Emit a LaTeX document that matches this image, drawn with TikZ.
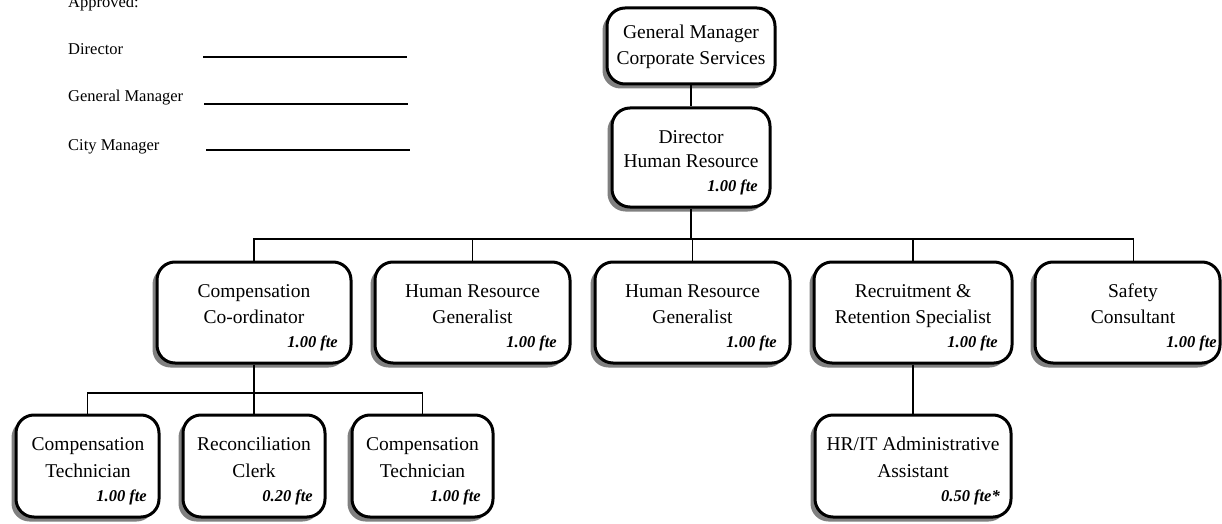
\documentclass[tikz,border=0pt]{standalone}
\usepackage{fontspec}
\setmainfont{Liberation Serif}
\usetikzlibrary{shadows}
\tikzset{
  orgbox/.style={draw=black, line width=3pt, fill=white, rounded corners=18pt, inner sep=0pt,
    drop shadow={shadow xshift=-4.5pt, shadow yshift=-4.5pt, fill=black!50, opacity=1}},
  ttl/.style={anchor=base, inner sep=0pt, font=\fontsize{19.5}{26}\selectfont},
  fte/.style={anchor=base east, inner sep=0pt, font=\fontsize{16.5}{18}\selectfont\bfseries\itshape},
  small/.style={anchor=base west, inner sep=0pt, font=\fontsize{16.5}{18}\selectfont},
  conn/.style={draw=black, line width=1.3pt},
  sigline/.style={draw=black, line width=1.8pt}
}
\newcommand{\obox}[5]{% name, x1, y1, x2, y2
  \node[orgbox, minimum width=#4-#2, minimum height=#5-#3] (#1) at ({(#2+#4)/2},{(#3+#5)/2}) {};
}
\begin{document}
\begin{tikzpicture}[x=1pt,y=-1pt]
\useasboundingbox (0,0) rectangle (1222,524);

% approval block
\node[small] (appr) at (68,8) {Approved:};
\node[small] (sdir) at (68,55) {Director};
\node[small] (sgm) at (68,102) {General Manager};
\node[small] (scm) at (68,150) {City Manager};
\coordinate (l1a) at (203,57); \coordinate (l1b) at (407,57);
\coordinate (l2a) at (204,104); \coordinate (l2b) at (408,104);
\coordinate (l3a) at (206,150); \coordinate (l3b) at (410,150);
\draw[sigline] (l1a) -- (l1b);
\draw[sigline] (l2a) -- (l2b);
\draw[sigline] (l3a) -- (l3b);

% boxes
\obox{gm}{607}{8}{775}{84}
\obox{dir}{612}{108}{770}{207}
\obox{cc}{157}{262}{351}{363}
\obox{hrga}{375}{262}{570}{363}
\obox{hrgb}{595}{262}{790}{363}
\obox{rr}{814}{262}{1012}{363}
\obox{saf}{1035}{262}{1220}{363}
\obox{cta}{16}{415}{159}{517}
\obox{rc}{183}{415}{325}{517}
\obox{ctb}{352}{415}{493}{517}
\obox{hrit}{815}{415}{1011}{517}

% connectors
\coordinate (busA) at (691,239);
\coordinate (busB) at (254,393);
\draw[conn] (gm.south) -- (dir.north);
\draw[conn] (dir.south) -- (busA);
\draw[conn] (busA) -| (cc.north);
\draw[conn] (busA) -| (hrga.north);
\draw[conn] (busA) -| (hrgb.north);
\draw[conn] (busA) -| (rr.north);
\draw[conn] (busA) -| ([xshift=6pt]saf.north);
\draw[conn] (cc.south) -- (busB);
\draw[conn] (busB) -| (cta.north);
\draw[conn] (busB) -| (rc.north);
\draw[conn] (busB) -| (ctb.north);
\draw[conn] (rr.south) -- (hrit.north);

% texts
\node[ttl] (gm1) at (691,39) {General Manager};
\node[ttl] (gm2) at (691,65) {Corporate Services};

\node[ttl] (dir1) at (691,143) {Director};
\node[ttl] (dir2) at (691,167) {Human Resource};
\node[fte] (dirf) at (758,191) {1.00 fte};

\node[ttl] (cc1) at (254,297) {Compensation};
\node[ttl] (cc2) at (254,323) {Co-ordinator};
\node[fte] (ccf) at (338,347) {1.00 fte};

\node[ttl] (ha1) at (472.5,297) {Human Resource};
\node[ttl] (ha2) at (472.5,323) {Generalist};
\node[fte] (haf) at (557,347) {1.00 fte};

\node[ttl] (hb1) at (692.5,297) {Human Resource};
\node[ttl] (hb2) at (692.5,323) {Generalist};
\node[fte] (hbf) at (777,347) {1.00 fte};

\node[ttl] (rr1) at (913,297) {Recruitment \&};
\node[ttl] (rr2) at (913,323) {Retention Specialist};
\node[fte] (rrf) at (998,347) {1.00 fte};

\node[ttl] (sf1) at (1133,297) {Safety};
\node[ttl] (sf2) at (1133,323) {Consultant};
\node[fte] (sff) at (1217,347) {1.00 fte};

\node[ttl] (ca1) at (88,450) {Compensation};
\node[ttl] (ca2) at (88,477) {Technician};
\node[fte] (caf) at (147,501) {1.00 fte};

\node[ttl] (rc1) at (254,450) {Reconciliation};
\node[ttl] (rc2) at (254,477) {Clerk};
\node[fte] (rcf) at (313,501) {0.20 fte};

\node[ttl] (cb1) at (422.5,450) {Compensation};
\node[ttl] (cb2) at (422.5,477) {Technician};
\node[fte] (cbf) at (481,501) {1.00 fte};

\node[ttl] (hi1) at (913,450) {HR/IT Administrative};
\node[ttl] (hi2) at (913,477) {Assistant};
\node[fte] (hif) at (1000,501) {0.50 fte*};
\end{tikzpicture}
\end{document}
